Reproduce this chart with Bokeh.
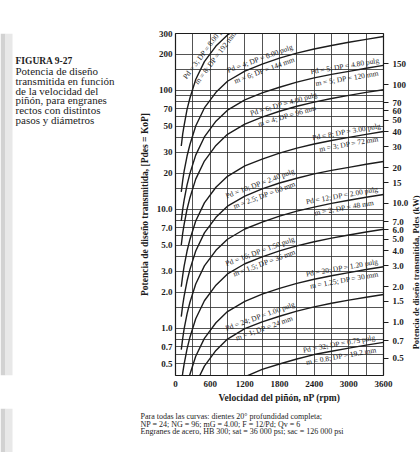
import numpy as np
from bokeh.plotting import figure
from bokeh.layouts import row, column
from bokeh.models import Range1d, LogAxis, FixedTicker, CustomJSTickFormatter, Label
from bokeh.core.properties import value
from bokeh.embed import file_html
from bokeh.resources import INLINE

# ---------------- data ----------------
rpm = [100, 125, 150, 200, 250, 350, 500, 700, 900, 1200, 1500, 1800, 2100, 2400, 2700, 3000, 3300, 3600]

hp_pd3 = [34, 43, 51, 69, 86, 123, 174, 235, 292, 355]
hp_pd4 = [14, 17.5, 21, 28, 35, 50, 71, 96, 119, 145, 166, 186, 205, 222, 238, 253, 268, 283]
hp_pd5 = [8.0, 10.0, 12.0, 16.0, 20.0, 28.5, 40.5, 55, 68, 83, 95, 106, 117, 127, 136, 144, 153, 162]
hp_pd6 = [5.0, 6.3, 7.5, 10.0, 12.5, 17.9, 25.4, 34.4, 42.6, 51.9, 59.4, 66.6, 73.4, 79.5, 85.2, 90.6, 95.9, 101]
hp_pd8 = [2.23, 2.78, 3.34, 4.45, 5.57, 7.95, 11.3, 15.3, 18.9, 23.1, 26.4, 29.6, 32.6, 35.3, 37.8, 40.2, 42.6, 45.0]
hp_pd10 = [1.25, 1.56, 1.87, 2.49, 3.12, 4.45, 6.32, 8.54, 10.6, 12.9, 14.8, 16.6, 18.2, 19.8, 21.2, 22.5, 23.9, 25.2]
hp_pd12 = [0.66, 0.82, 0.99, 1.32, 1.65, 2.35, 3.34, 4.51, 5.59, 6.82, 7.80, 8.74, 9.64, 10.4, 11.2, 11.9, 12.6, 13.3]
hp_pd16 = [0.34, 0.42, 0.50, 0.67, 0.84, 1.20, 1.70, 2.30, 2.86, 3.48, 3.98, 4.46, 4.92, 5.33, 5.71, 6.07, 6.43, 6.79]
hp_pd20 = [0.16, 0.20, 0.24, 0.32, 0.41, 0.58, 0.82, 1.11, 1.38, 1.68, 1.93, 2.16, 2.38, 2.58, 2.76, 2.93, 3.11, 3.28]
hp_pd24 = [0.095, 0.12, 0.14, 0.19, 0.24, 0.34, 0.48, 0.65, 0.81, 0.99, 1.13, 1.26, 1.39, 1.51, 1.62, 1.72, 1.82, 1.92]
hp_pd32 = [0.038, 0.047, 0.057, 0.076, 0.095, 0.135, 0.19, 0.26, 0.32, 0.39, 0.45, 0.50, 0.55, 0.60, 0.64, 0.68, 0.72, 0.76]

curve_hp = [hp_pd3, hp_pd4, hp_pd5, hp_pd6, hp_pd8, hp_pd10, hp_pd12, hp_pd16, hp_pd20, hp_pd24, hp_pd32]

labels_pulg = ["Pd = 3; DP = 8.00 pulg", "Pd = 4; DP = 6.00 pulg", "Pd = 5; DP = 4.80 pulg",
               "Pd = 6; DP = 4.00 pulg", "Pd = 8; DP = 3.00 pulg", "Pd = 10; DP = 2.40 pulg",
               "Pd = 12; DP = 2.00 pulg", "Pd = 16; DP = 1.50 pulg", "Pd = 20; DP = 1.20 pulg",
               "Pd = 24; DP = 1.00 pulg", "Pd = 32; DP = 0.75 pulg"]
labels_mm = ["m = 8; DP = 192 mm", "m = 6; DP = 144 mm", "m = 5; DP = 120 mm",
             "m = 4; DP = 96 mm", "m = 3; DP = 72 mm", "m = 2.5; DP = 60 mm",
             "m = 2; DP = 48 mm", "m = 1.5; DP = 36 mm", "m = 1.25; DP = 30 mm",
             "m = 1; DP = 24 mm", "m = 0.8; DP = 19.2 mm"]
label_rpm = [600, 1500, 2950, 1900, 2980, 1500, 2900, 1500, 2900, 1500, 2850]

x_ticks = [0, 600, 1200, 1800, 2400, 3000, 3600]
hp_ticks = [0.5, 0.7, 1, 2, 3, 5, 7, 10, 20, 30, 50, 70, 100, 200, 300]
kw_ticks = [0.5, 0.7, 1, 1.5, 2, 3, 4, 5, 6, 7, 10, 15, 20, 30, 40, 50, 60, 70, 100, 150]
grid_x = [300, 600, 900, 1200, 1500, 1800, 2100, 2400, 2700, 3000, 3300]
grid_y = [0.5, 0.6, 0.7, 0.8, 0.9, 1, 1.5, 2, 3, 4, 5, 6, 7, 8, 9, 10, 15, 20, 30, 40, 50,
          60, 70, 80, 90, 100, 150, 200]

fig_title = "FIGURA 9-27"
side_text = ["Potencia de diseño", "transmitida en función", "de la velocidad del",
             "piñón, para engranes", "rectos con distintos", "pasos y diámetros"]
note_text = ["Para todas las curvas: dientes 20° profundidad completa;",
             "NP = 24; NG = 96; mG = 4.00; F = 12/Pd; Qv = 6",
             "Engranes de acero, HB 300; sat = 36 000 psi; sac = 126 000 psi"]
right_title = "Potencia de diseño transmitida, Pdes (kW)"

# ---------------- layout constants ----------------
LEFT_W, MAIN_W, RIGHT_W = 130, 281, 9
TOP_H, BOT_H = 408, 44
BL, BR, BT, BB = 45, 26, 33, 33
FW, FH = MAIN_W - BL - BR, TOP_H - BT - BB
X0, X1 = 0, 3600
Y0, Y1 = 0.4, 300
KW0, KW1 = 0.358, 268.6
sx = FW / (X1 - X0)
sy = FH / np.log10(Y1 / Y0)

SERIF = "Liberation Serif"
INK = "#1c1c1c"


def blank(w, h):
    f = figure(width=w, height=h, output_backend="svg", toolbar_location=None,
               x_range=Range1d(0, w), y_range=Range1d(h, 0),
               x_axis_location=None, y_axis_location=None,
               min_border=0, min_border_left=0, min_border_right=0,
               min_border_top=0, min_border_bottom=0)
    f.outline_line_color = None
    f.grid.visible = False
    f.background_fill_color = "white"
    f.border_fill_color = "white"
    return f


# ---------------- main chart ----------------
p = figure(width=MAIN_W, height=TOP_H, output_backend="svg", toolbar_location=None,
           x_range=Range1d(X0, X1), y_range=Range1d(Y0, Y1), y_axis_type="log",
           min_border_left=BL, min_border_right=BR, min_border_top=BT, min_border_bottom=BB)
p.background_fill_color = "white"
p.border_fill_color = "white"
p.outline_line_color = INK
p.outline_line_width = 1.2

p.xgrid.ticker = FixedTicker(ticks=grid_x)
p.ygrid.ticker = FixedTicker(ticks=grid_y)
for g in (p.xgrid, p.ygrid):
    g.grid_line_color = "#2b2b2b"
    g.grid_line_width = 0.9
    g.grid_line_alpha = 0.9

fmt = CustomJSTickFormatter(code="return tick >= 14 ? tick.toFixed(0) : tick.toFixed(1);")
xa = p.xaxis[0]
xa.ticker = FixedTicker(ticks=x_ticks)
xa.formatter = CustomJSTickFormatter(code="return tick.toFixed(0);")
xa.axis_label = "Velocidad del piñón, nP (rpm)"
ya = p.yaxis[0]
ya.ticker = FixedTicker(ticks=hp_ticks)
ya.formatter = fmt
ya.axis_label = "Potencia de diseño transmitida, [Pdes = KoP]"

p.extra_y_ranges = {"kw": Range1d(KW0, KW1)}
ra = LogAxis(y_range_name="kw", ticker=FixedTicker(ticks=kw_ticks), formatter=fmt)
p.add_layout(ra, "right")

for ax in (xa, ya, ra):
    ax.axis_line_color = None
    ax.major_tick_line_color = INK
    ax.minor_tick_line_color = None
    ax.major_tick_in = 0
    ax.major_label_text_font = SERIF
    ax.major_label_text_font_style = "bold"
    ax.major_label_text_font_size = "9px"
    ax.major_label_text_color = INK
    ax.axis_label_text_font = SERIF
    ax.axis_label_text_font_style = "bold"
    ax.axis_label_text_font_size = "9.5px"
    ax.axis_label_text_color = INK
xa.major_tick_out = 0
xa.major_label_standoff = 5
xa.axis_label_standoff = 3
ya.major_tick_out = 0
ya.major_label_standoff = 3
ya.axis_label_standoff = 4
ra.major_tick_out = 5
ra.major_label_standoff = 4

for hp in curve_hp:
    p.line(rpm[:len(hp)], hp, line_color=INK, line_width=1.4)


def to_scr(n, P):
    return n * sx, np.log10(P / Y0) * sy


def from_scr(X, Yv):
    return X / sx, Y0 * 10 ** (Yv / sy)


for hp, t1, t2, na in zip(curve_hp, labels_pulg, labels_mm, label_rpm):
    xs = np.array(rpm[:len(hp)], dtype=float)
    lg = np.log10(np.array(hp, dtype=float))

    def at(n):
        return to_scr(n, 10 ** np.interp(n, xs, lg))
    xa0, ya0 = at(na - 60)
    xb0, yb0 = at(na + 60)
    th = float(np.arctan2(yb0 - ya0, xb0 - xa0))
    cx, cy = at(na)
    nx, ny = -np.sin(th), np.cos(th)
    for txt, d in ((t1, 6.0), (t2, -6.5)):
        dx, dy = from_scr(cx + nx * d, cy + ny * d)
        p.add_layout(Label(x=float(dx), y=float(dy), text=txt, angle=th, text_align="center",
                           text_baseline="middle", text_font=SERIF,
                           text_font_size="7.5px", text_color=INK))

# ---------------- side panels ----------------
left = blank(LEFT_W, TOP_H)
left.quad(left=[0], right=[5], top=[0], bottom=[TOP_H], fill_color="#d2d2d2", line_color=None)
left.quad(left=[5], right=[12], top=[0], bottom=[TOP_H], fill_color="#e8e8e8", line_color=None)
left.text(x=[15], y=[33], text=[fig_title], text_font=value(SERIF), text_font_style="bold",
          text_font_size="9.5px", text_baseline="middle", text_color=INK)
left.text(x=[15] * len(side_text), y=[44.5 + i * 11.8 for i in range(len(side_text))],
          text=side_text, text_font=value(SERIF), text_font_size="11px",
          text_baseline="middle", text_color=INK)

right = blank(RIGHT_W, TOP_H)
right.text(x=[4.5], y=[285], text=[right_title], angle=np.pi / 2, text_align="center",
           text_baseline="middle", text_font=value(SERIF), text_font_style="bold",
           text_font_size="8.5px", text_color=INK)

bottom = blank(LEFT_W + MAIN_W + RIGHT_W, BOT_H)
bottom.quad(left=[0], right=[5], top=[0], bottom=[BOT_H], fill_color="#d2d2d2", line_color=None)
bottom.quad(left=[5], right=[12], top=[0], bottom=[BOT_H], fill_color="#e8e8e8", line_color=None)
bottom.text(x=[140] * len(note_text), y=[8 + i * 7.7 for i in range(len(note_text))],
            text=note_text, text_font=value(SERIF), text_font_size="8px",
            text_baseline="middle", text_color=INK)

layout = column(row(left, p, right), bottom)
open("out.html", "w").write(file_html(layout, INLINE))
